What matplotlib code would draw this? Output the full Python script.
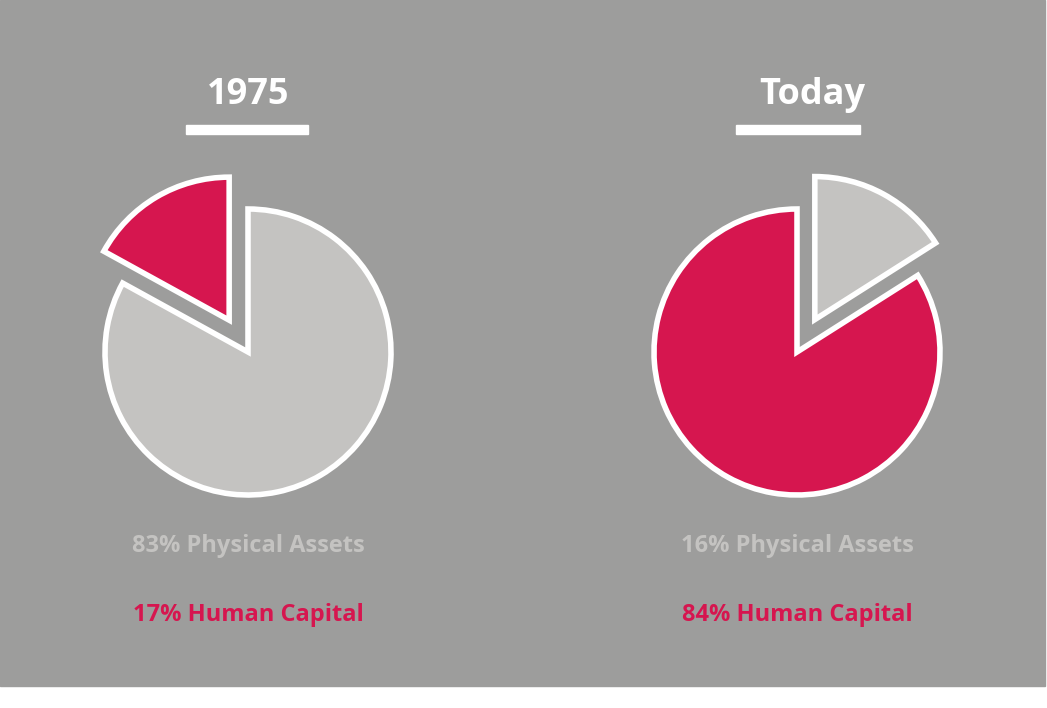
import matplotlib
matplotlib.use("Agg")
import matplotlib.pyplot as plt
from matplotlib.patches import Rectangle

years = ["1975", "Today"]
human = [17, 84]
physical = [83, 16]

GRAY_BG = "#9d9d9c"
LIGHT = "#c4c3c1"
RED = "#d6164f"
H = 708

fig = plt.figure(figsize=(10.47, 7.08), dpi=100)
fig.patch.set_facecolor("white")
ax = fig.add_axes([0, 0, 1, 1])
ax.set_xlim(0, 1047)
ax.set_ylim(0, H)
ax.set_aspect("equal")
ax.axis("off")
ax.add_patch(Rectangle((0, H - 686), 1045, 686, color=GRAY_BG, zorder=0))

font = ["Open Sans", "DejaVu Sans"]
centers = [(248, 352), (797, 352)]
title_x = [248, 812]
under = [(186, 308), (736, 860)]
for i in range(2):
    cx, cy = centers[i]
    if i == 0:
        vals = [human[i], physical[i]]
        cols = [RED, LIGHT]
        exp = [37, 0]
    else:
        vals = [physical[i], human[i]]
        cols = [LIGHT, RED]
        exp = [37, 0]
    ax.pie(vals, colors=cols, startangle=90, counterclock=(i == 0),
           center=(cx, H - cy), radius=143, explode=exp,
           wedgeprops=dict(edgecolor="white", linewidth=4, joinstyle="miter"),
           frame=True)
    ax.text(title_x[i], H - 95, years[i], ha="center", va="center",
            color="white", fontsize=26, fontweight="bold", family=font)
    ax.add_patch(Rectangle((under[i][0], H - 134), under[i][1] - under[i][0], 9,
                           color="white", zorder=3))
    ax.text(cx, H - 546, f"{physical[i]}% Physical Assets", ha="center", va="center",
            color=LIGHT, fontsize=17, fontweight="bold", family=font)
    ax.text(cx, H - 615, f"{human[i]}% Human Capital", ha="center", va="center",
            color=RED, fontsize=17, fontweight="bold", family=font)

ax.set_xlim(0, 1047)
ax.set_ylim(0, H)
ax.axis("off")
fig.savefig("out.png", dpi=100, facecolor="white")
